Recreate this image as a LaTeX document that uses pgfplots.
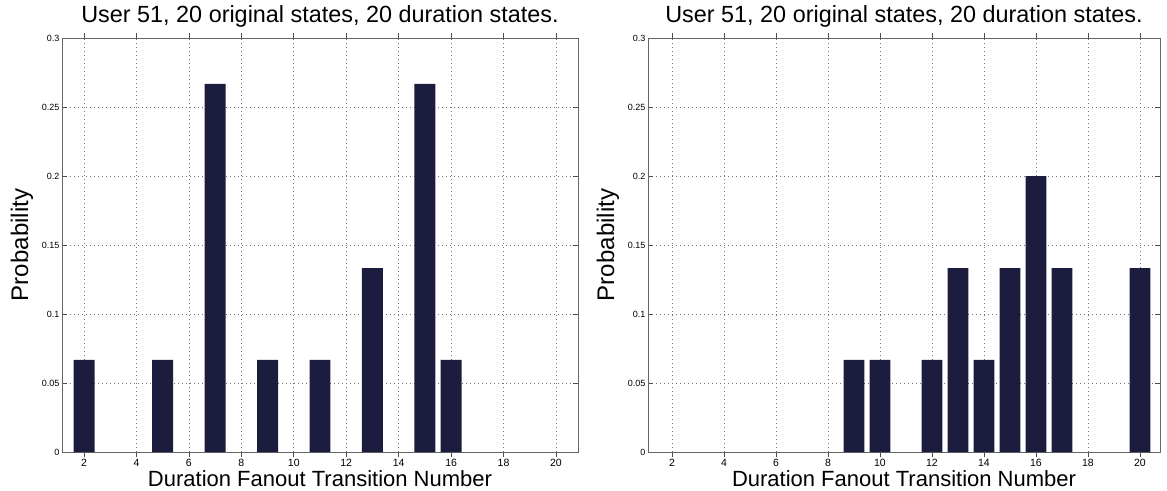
\documentclass[border=0pt]{standalone}
\usepackage{fontspec}
\setmainfont{Liberation Sans}
\usepackage{pgfplots}
\pgfplotsset{compat=1.18}
\definecolor{barc}{RGB}{28,28,62}
\pgfplotsset{
  mystyle/.style={
    scale only axis,
    height=414pt,
    ymin=0, ymax=0.3,
    ytick={0,0.05,0.1,0.15,0.2,0.25,0.3},
    yticklabels={0,0.05,0.1,0.15,0.2,0.25,0.3},
    xtick={2,4,...,20},
    tick align=inside,
    major tick length=5pt,
    tick style={black!70, line width=0.6pt},
    axis line style={black!60, line width=0.8pt},
    grid=major,
    grid style={dash pattern=on 1pt off 3pt, black!55, line width=0.7pt},
    /pgf/number format/assume math mode=true,
    yticklabel style={font=\fontsize{9}{10}\selectfont, xshift=1pt},
    xticklabel style={font=\fontsize{10.5}{11}\selectfont, yshift=1pt},
    xlabel={Duration Fanout Transition Number},
    ylabel={Probability},
    xlabel style={font=\fontsize{22}{24}\selectfont, at={(axis description cs:0.5,0)}, anchor=center, yshift=-27pt},
    ylabel style={font=\fontsize{24}{26}\selectfont, at={([xshift=-40pt]axis description cs:0,0.5)}, anchor=center},
    title={User 51, 20 original states, 20 duration states.},
    title style={font=\fontsize{23.4}{25}\selectfont, at={(axis description cs:0.5,1)}, anchor=center, yshift=16pt},
    ybar, bar width=0.8, bar shift=0pt,
  }
}
\begin{document}
\begin{tikzpicture}
\useasboundingbox (-62pt,-38pt) rectangle (1105pt,452pt);
\begin{axis}[mystyle, width=516pt, at={(0pt,0pt)}, xmin=1.16, xmax=20.84]
\addplot[fill=barc, draw=none] coordinates {
(2,0.0667) (5,0.0667) (7,0.2667) (9,0.0667) (11,0.0667) (13,0.1333) (15,0.2667) (16,0.0667)
};
\end{axis}
\begin{axis}[mystyle, width=512pt, at={(586pt,0pt)}, xmin=1.08, xmax=20.77]
\addplot[fill=barc, draw=none] coordinates {
(9,0.0667) (10,0.0667) (12,0.0667) (13,0.1333) (14,0.0667) (15,0.1333) (16,0.2) (17,0.1333) (20,0.1333)
};
\end{axis}
\end{tikzpicture}
\end{document}
